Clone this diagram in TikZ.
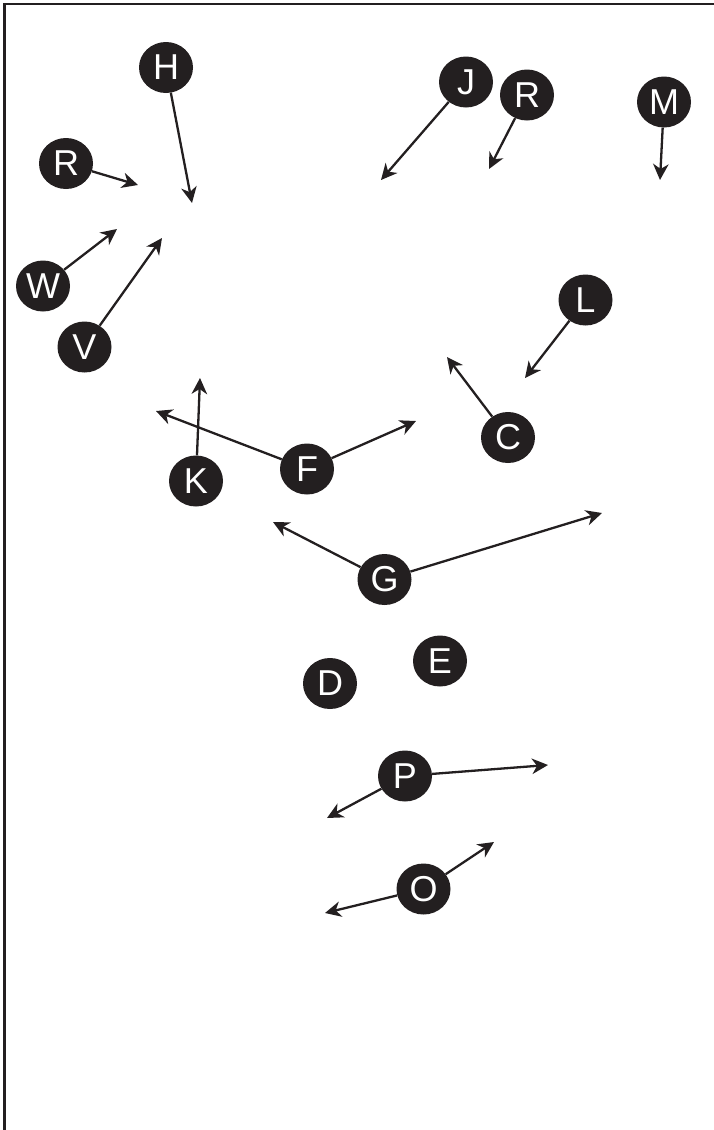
\documentclass[tikz,border=0pt]{standalone}
\usepackage{fontspec}
\setmainfont{Liberation Sans}
\usetikzlibrary{shapes.geometric,arrows.meta}
\definecolor{ink}{HTML}{231F20}
\tikzset{
  ball/.style={ellipse, fill=ink, text=white, minimum width=54pt, minimum height=51pt, inner sep=0pt,
    font=\fontsize{36}{36}\selectfont},
  arr/.style={draw=ink, line width=2.3pt, -{Stealth[length=16pt,width=15.5pt,inset=5pt]}},
  frame/.style={draw=ink, line width=2.4pt}
}
\begin{document}
\begin{tikzpicture}[x=1pt,y=-1pt]
\useasboundingbox (0,0) rectangle (714,1130);
\coordinate (f1) at (4.5,1131);
\coordinate (f2) at (4.5,4);
\coordinate (f3) at (715,4);
\draw[frame] (f1) -- (f2) -- (f3);

\node[ball] (H) at (166,67.5) {H};
\node[ball] (Rl) at (66,163.5) {R};
\node[ball] (W) at (43,286) {W};
\node[ball] (V) at (84.5,347) {V};
\node[ball] (J) at (466,82) {J};
\node[ball] (Rr) at (527,95) {R};
\node[ball] (M) at (664,102) {M};
\node[ball] (L) at (585.5,300) {L};
\node[ball] (C) at (508,437.5) {C};
\node[ball] (F) at (307,469) {F};
\node[ball] (K) at (196,481) {K};
\node[ball] (G) at (384.5,579.5) {G};
\node[ball] (E) at (440,661) {E};
\node[ball] (D) at (330,683.5) {D};
\node[ball] (P) at (405,776) {P};
\node[ball] (O) at (423.5,889) {O};

\coordinate (tH) at (192,203);
\coordinate (tRl) at (138,185);
\coordinate (tW) at (117,229);
\coordinate (tV) at (162,238);
\coordinate (tJ) at (381,180);
\coordinate (tRr) at (489,169);
\coordinate (tM) at (660,180);
\coordinate (tL) at (525,378);
\coordinate (tC) at (447,357);
\coordinate (tF1) at (156,411);
\coordinate (tF2) at (416,421);
\coordinate (tK) at (200,378);
\coordinate (tG1) at (273,522);
\coordinate (tG2) at (602,513);
\coordinate (tP1) at (548,765);
\coordinate (tP2) at (327,818);
\coordinate (tO1) at (325,913);
\coordinate (tO2) at (494,842);

\draw[arr] (H) -- (tH);
\draw[arr] (Rl) -- (tRl);
\draw[arr] (W) -- (tW);
\draw[arr] (V) -- (tV);
\draw[arr] (J) -- (tJ);
\draw[arr] (Rr) -- (tRr);
\draw[arr] (M) -- (tM);
\draw[arr] (L) -- (tL);
\draw[arr] (C) -- (tC);
\draw[arr] (F) -- (tF1);
\draw[arr] (F) -- (tF2);
\draw[arr] (K) -- (tK);
\draw[arr] (G) -- (tG1);
\draw[arr] (G) -- (tG2);
\draw[arr] (P) -- (tP1);
\draw[arr] (P) -- (tP2);
\draw[arr] (O) -- (tO1);
\draw[arr] (O) -- (tO2);
\end{tikzpicture}
\end{document}
